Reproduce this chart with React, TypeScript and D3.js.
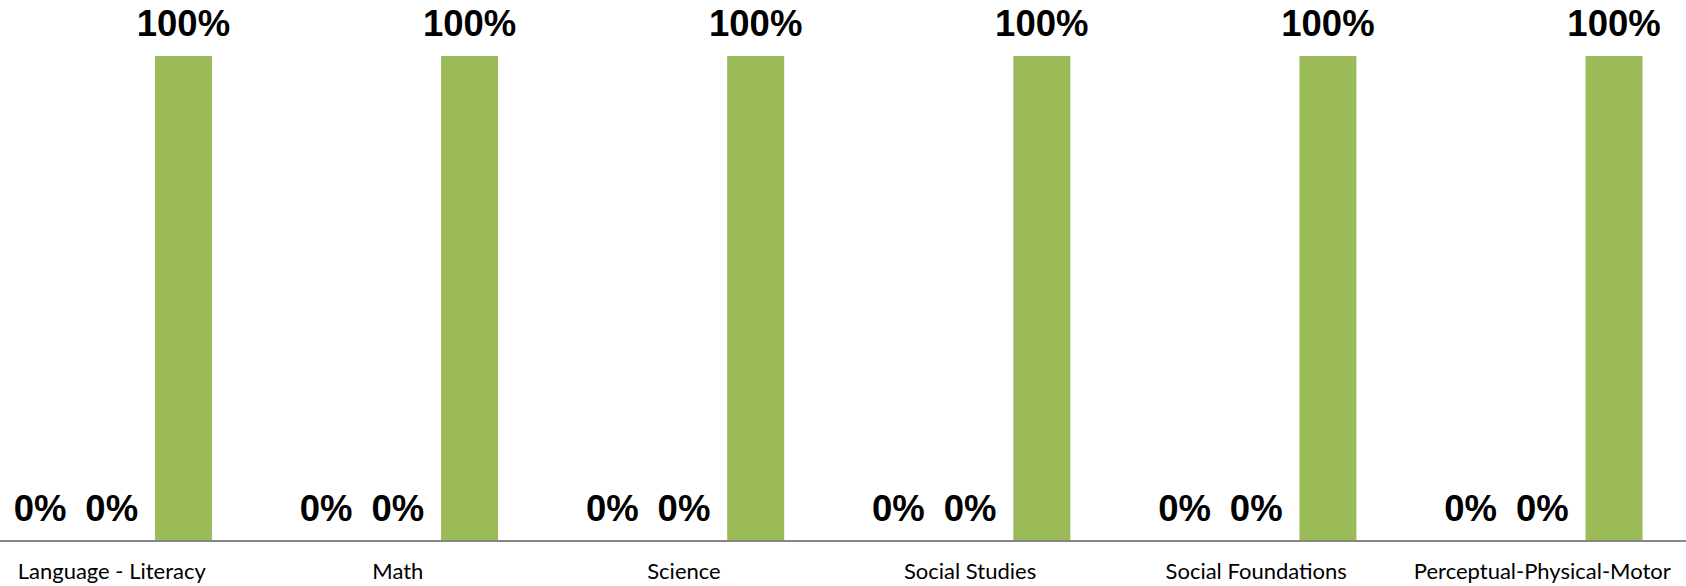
import React, { useEffect, useRef } from 'react'
import * as d3 from 'd3'

const categories = [
  'Language - Literacy',
  'Math',
  'Science',
  'Social Studies',
  'Social Foundations',
  'Perceptual-Physical-Motor',
]
const seriesNames = ['Series A', 'Series B', 'Series C']
const seriesA = [0, 0, 0, 0, 0, 0]
const seriesB = [0, 0, 0, 0, 0, 0]
const seriesC = [100, 100, 100, 100, 100, 100]
const seriesColors = ['#4F81BD', '#C0504D', '#9BBB59']

const App = () => {
  const ref = useRef<SVGSVGElement>(null)

  useEffect(() => {
    draw()
  })

  const draw = () => {
    const width = 1686
    const height = 586
    const svg = d3.select(ref.current)
    svg.selectAll('*').remove()
    svg.attr('width', width).attr('height', height)

    const baseY = 541
    const x0 = d3.scaleBand().domain(categories).range([-31.3, 1685.4]).padding(0)
    // excel style gap width (150% of a bar), split on both sides of a group
    const gap = x0.bandwidth() * 0.1498
    const x1 = d3
      .scaleBand()
      .domain(seriesNames)
      .range([gap, x0.bandwidth() - gap])
      .paddingInner(0.205)
    const y = d3.scaleLinear().domain([0, 100]).range([baseY, 56])

    const rows = categories.map((c, i) => ({
      cat: c,
      vals: [seriesA[i], seriesB[i], seriesC[i]],
    }))

    const groups = svg
      .append('g')
      .selectAll('g')
      .data(rows)
      .enter()
      .append('g')
      .attr('transform', (d) => `translate(${x0(d.cat)},0)`)

    groups
      .selectAll('rect')
      .data((d) => d.vals.map((v, j) => ({ v, s: seriesNames[j], j })))
      .enter()
      .append('rect')
      .attr('x', (d) => x1(d.s) as number)
      .attr('width', x1.bandwidth())
      .attr('y', (d) => y(d.v))
      .attr('height', (d) => baseY - y(d.v))
      .style('fill', (d) => seriesColors[d.j])

    groups
      .selectAll('text')
      .data((d) => d.vals.map((v, j) => ({ v, s: seriesNames[j] })))
      .enter()
      .append('text')
      .attr('x', (d) => (x1(d.s) as number) + x1.bandwidth() / 2)
      .attr('y', (d) => y(d.v) - 20)
      .attr('text-anchor', 'middle')
      .style('font-family', '"Liberation Sans", Arial, sans-serif')
      .style('font-weight', 'bold')
      .style('font-size', '36.5px')
      .style('fill', '#000')
      .text((d) => `${d.v}%`)

    svg
      .append('line')
      .attr('x1', 0)
      .attr('x2', width)
      .attr('y1', baseY)
      .attr('y2', baseY)
      .style('stroke', '#868686')
      .style('stroke-width', 2)

    svg
      .append('g')
      .selectAll('text')
      .data(categories)
      .enter()
      .append('text')
      .attr('x', (d) => (x0(d) as number) + x0.bandwidth() / 2)
      .attr('y', 579)
      .attr('text-anchor', 'middle')
      .style('font-family', 'Lato, sans-serif')
      .style('font-size', '22px')
      .style('fill', '#000')
      .text((d) => d)
  }

  return (
    <div style={{ position: 'absolute', left: 0, top: 0 }}>
      <svg ref={ref} style={{ display: 'block' }} />
    </div>
  )
}

export default App
